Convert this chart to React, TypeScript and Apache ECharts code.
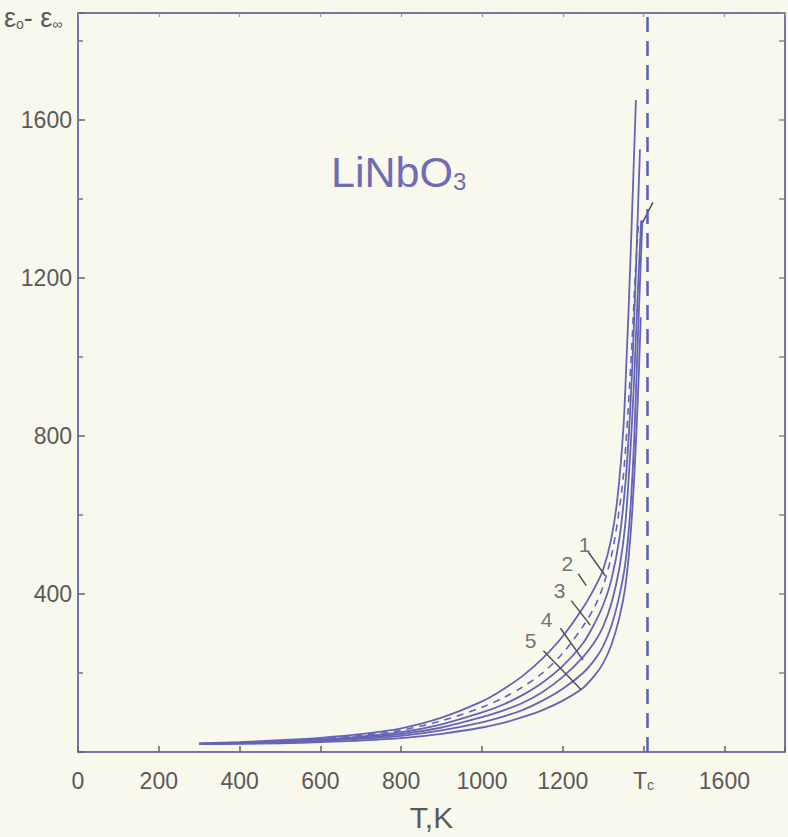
import React, { useEffect, useRef } from "react";
import * as echarts from "echarts";

// ---- axis extents / ticks ----
const X_MAX = 1750;
const Y_MAX = 1870;
const X_INTERVAL = 200;
const Y_INTERVAL = 400;
const X_SPECIAL_LABEL_AT = 1400; // labelled "Tc"
const TC_LINE = 1410; // dashed vertical line (Tc)

// ---- curves, outermost (5) to innermost (1) ----
const T5 = [300, 400, 500, 600, 700, 800, 900, 1000, 1050, 1100, 1150, 1200, 1250, 1280, 1300, 1320, 1335, 1350, 1358, 1364, 1371, 1377, 1381];
const V5 = [22, 25, 30, 36, 45, 60, 87, 128, 157, 192, 237, 293, 365, 418, 462, 540, 640, 820, 1000, 1150, 1350, 1530, 1650];

const TD = [300, 400, 500, 600, 700, 800, 900, 1000, 1050, 1100, 1150, 1200, 1250, 1280, 1300, 1320, 1335, 1350, 1362, 1372, 1380, 1388];
const VD = [21, 24, 28, 34, 42, 55, 79, 113, 136, 164, 200, 250, 318, 370, 420, 495, 580, 700, 870, 1050, 1220, 1345];

const T4 = [300, 400, 500, 600, 700, 800, 900, 1000, 1050, 1100, 1150, 1200, 1250, 1280, 1300, 1320, 1340, 1355, 1366, 1375, 1383, 1391];
const V4 = [21, 23, 27, 32, 39, 50, 70, 100, 119, 144, 176, 218, 275, 328, 372, 435, 540, 680, 850, 1050, 1280, 1525];

const T3 = [300, 400, 500, 600, 700, 800, 900, 1000, 1050, 1100, 1150, 1200, 1250, 1280, 1300, 1320, 1340, 1355, 1366, 1376, 1385, 1394];
const V3 = [20, 22, 25, 30, 36, 45, 62, 88, 104, 124, 152, 190, 240, 280, 318, 375, 465, 580, 740, 930, 1150, 1345];

const T2 = [300, 400, 500, 600, 700, 800, 900, 1000, 1050, 1100, 1150, 1200, 1250, 1280, 1300, 1320, 1340, 1355, 1367, 1377, 1387, 1397];
const V2 = [20, 21, 24, 28, 33, 41, 55, 75, 89, 106, 130, 160, 200, 235, 268, 318, 395, 480, 610, 800, 1080, 1345];

const T1 = [300, 400, 500, 600, 700, 800, 900, 1000, 1050, 1100, 1150, 1200, 1250, 1280, 1300, 1320, 1340, 1355, 1367, 1377, 1386, 1393];
const V1 = [20, 21, 22, 25, 29, 35, 46, 62, 73, 88, 106, 130, 162, 195, 225, 270, 340, 420, 540, 700, 900, 1100];

// ---- curve number labels and their leader strokes (data coordinates) ----
const LABEL_NAMES = ["5", "4", "3", "2", "1"];
const LABEL_POS = [[1120, 283], [1160, 336], [1192, 408], [1211, 478], [1254, 526]];
const LEADER_FROM = [[1152, 256], [1194, 313], [1221, 383], [1238, 451], [1263, 506], [1398, 1341]];
const LEADER_TO = [[1245, 158], [1250, 233], [1268, 321], [1258, 421], [1305, 446], [1423, 1391]];

const FONT = '"Liberation Sans", Arimo, Arial, sans-serif';
const BG = "#f9f8ec";
const CURVE = "#6464b6";
const AXIS = "#7473b4";
const TEXT = "#5a5a5a";

const zip = (t: number[], v: number[]) => t.map((x, i) => [x, v[i]]);

export default function App() {
  const ref = useRef<HTMLDivElement>(null);
  useEffect(() => {
    if (!ref.current) return;
    const chart = echarts.init(ref.current, null, { renderer: "svg" });

    const curveSeries = (name: string, t: number[], v: number[], dashed = false) => ({
      name,
      type: "line",
      data: zip(t, v),
      showSymbol: false,
      symbol: "none",
      smooth: 0.3,
      silent: true,
      lineStyle: { color: CURVE, width: dashed ? 1.6 : 1.8, type: dashed ? [7, 6] : "solid" },
      z: 3,
    });

    const leaderSeries = LEADER_FROM.map((f, i) => ({
      name: "leader" + i,
      type: "line",
      data: [f, LEADER_TO[i]],
      showSymbol: false,
      symbol: "none",
      silent: true,
      lineStyle: { color: "#4f4f62", width: 1.5 },
      z: 4,
    }));

    const option: any = {
      animation: false,
      backgroundColor: BG,
      grid: { left: 78, right: 1, top: 13, bottom: 77, containLabel: false },
      xAxis: [
        {
          type: "value",
          min: 0,
          max: X_MAX,
          interval: X_INTERVAL,
          axisLine: { show: true, onZero: false, lineStyle: { color: AXIS, width: 2 } },
          axisTick: { show: true, inside: true, length: 6, lineStyle: { color: "#666", width: 1.5 } },
          splitLine: { show: false },
          axisLabel: {
            margin: 17,
            color: TEXT,
            fontFamily: FONT,
            fontSize: 23,
            formatter: (v: number) =>
              v % X_INTERVAL !== 0 ? "" : v === X_SPECIAL_LABEL_AT ? "{t|T}{c|c}" : String(v),
            rich: {
              t: { fontFamily: FONT, fontSize: 23, color: TEXT, verticalAlign: "bottom" },
              c: { fontFamily: FONT, fontSize: 14, color: TEXT, verticalAlign: "bottom" },
            },
          },
          name: "T,K",
          nameLocation: "middle",
          nameGap: 50,
          nameTextStyle: { color: TEXT, fontFamily: FONT, fontSize: 30 },
        },
        {
          type: "value",
          position: "top",
          min: 0,
          max: X_MAX,
          interval: X_INTERVAL,
          axisLine: { show: true, onZero: false, lineStyle: { color: AXIS, width: 2 } },
          axisTick: { show: true, inside: true, length: 4, lineStyle: { color: "#999", width: 1.2 } },
          axisLabel: { show: false },
          splitLine: { show: false },
        },
      ],
      yAxis: [
        {
          type: "value",
          min: 0,
          max: Y_MAX,
          interval: Y_INTERVAL,
          axisLine: { show: true, onZero: false, lineStyle: { color: AXIS, width: 2 } },
          axisTick: { show: true, inside: true, length: 7, lineStyle: { color: "#666", width: 1.5 } },
          minorTick: { show: true, splitNumber: 2, length: 5, lineStyle: { color: "#777", width: 1.5 } },
          splitLine: { show: false },
          axisLabel: {
            margin: 6,
            color: TEXT,
            fontFamily: FONT,
            fontSize: 23,
            formatter: (v: number) => (v === 0 || v % Y_INTERVAL !== 0 ? "" : String(v)),
          },
        },
        {
          type: "value",
          position: "right",
          min: 0,
          max: Y_MAX,
          interval: Y_INTERVAL,
          axisLine: { show: true, onZero: false, lineStyle: { color: AXIS, width: 2 } },
          axisTick: { show: true, inside: true, length: 6, lineStyle: { color: "#888", width: 1.5 } },
          minorTick: { show: true, splitNumber: 2, length: 6, lineStyle: { color: "#888", width: 1.5 } },
          axisLabel: { show: false },
          splitLine: { show: false },
        },
      ],
      graphic: [
        {
          type: "text",
          left: 4,
          top: 4,
          style: {
            text: "{e|ε}{s|o}{e|- ε}{s|∞}",
            rich: {
              e: { fontFamily: FONT, fontSize: 27, fill: TEXT, verticalAlign: "bottom", lineHeight: 30 },
              s: { fontFamily: FONT, fontSize: 14, fill: TEXT, verticalAlign: "bottom", lineHeight: 22 },
            },
          },
        },
        {
          type: "text",
          left: 331,
          top: 150,
          style: {
            text: "{a|LiNbO}{b|3}",
            rich: {
              a: { fontFamily: FONT, fontSize: 43, fill: "#706cb4", verticalAlign: "bottom", lineHeight: 52 },
              b: { fontFamily: FONT, fontSize: 24, fill: "#706cb4", verticalAlign: "bottom", lineHeight: 38 },
            },
          },
        },
      ],
      series: [
        curveSeries("5", T5, V5),
        curveSeries("dashed", TD, VD, true),
        curveSeries("4", T4, V4),
        curveSeries("3", T3, V3),
        curveSeries("2", T2, V2),
        {
          ...curveSeries("1", T1, V1),
          markLine: {
            silent: true,
            symbol: ["none", "none"],
            label: { show: false },
            lineStyle: { color: "#5c5cc0", width: 2.5, type: [15, 9] },
            data: [{ xAxis: TC_LINE }],
          },
        },
        ...leaderSeries,
        {
          name: "labels",
          type: "scatter",
          symbolSize: 0,
          silent: true,
          data: LABEL_POS.map((p, i) => ({ value: p, name: LABEL_NAMES[i] })),
          label: {
            show: true,
            position: "inside",
            formatter: "{b}",
            color: "#4e4e58",
            fontFamily: FONT,
            fontSize: 21,
          },
          z: 5,
        },
      ],
    };
    chart.setOption(option);
    return () => chart.dispose();
  }, []);

  return (
    <div
      ref={ref}
      style={{ position: "fixed", left: 0, top: 0, width: 788, height: 837, background: BG }}
    />
  );
}
